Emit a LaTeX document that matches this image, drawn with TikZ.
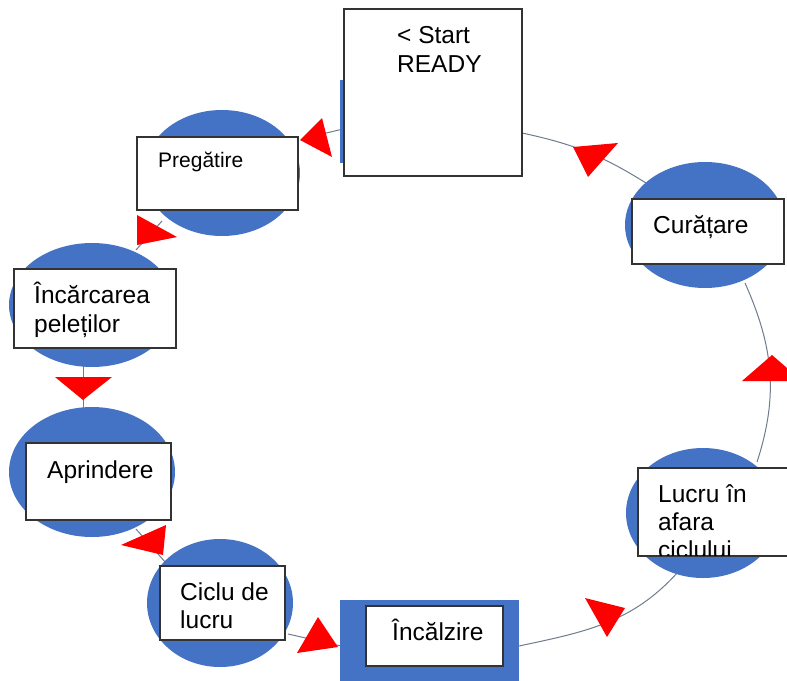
\documentclass[tikz,border=0pt]{standalone}
\usepackage{fontspec}
\setmainfont{Liberation Sans}
\usetikzlibrary{shapes.geometric}
\definecolor{oblue}{HTML}{4472C4}
\definecolor{conncol}{HTML}{6F7C8E}
\definecolor{boxline}{HTML}{333333}
\begin{document}
\begin{tikzpicture}[x=1pt,y=-1pt,
  blob/.style={ellipse, fill=oblue, draw=none, inner sep=0pt},
  wbox/.style={rectangle, fill=white, draw=boxline, line width=1.2pt, inner sep=0pt},
  bbox/.style={rectangle, fill=oblue, draw=none, inner sep=0pt},
  lbl/.style={anchor=base west, inner sep=0pt, font=\fontsize{24.5}{28}\selectfont},
  slbl/.style={anchor=base west, inner sep=0pt, font=\fontsize{21}{25}\selectfont},
  conn/.style={draw=conncol, line width=1pt},
  tri/.style={fill=red}]
\useasboundingbox (0,0) rectangle (787,680);
\clip (0,0) rectangle (787,680);
\fill[white] (0,0) rectangle (787,680);

% connector end points
\coordinate (c1a) at (343,129); \coordinate (c1b) at (318,135);
\coordinate (c2a) at (162,221); \coordinate (c2b) at (136,250);
\coordinate (c3a) at (83,366);  \coordinate (c3b) at (83,410);
\coordinate (c4a) at (136,529); \coordinate (c4b) at (166,563);
\coordinate (c5a) at (288,634); \coordinate (c5b) at (341,646);
\coordinate (c6a) at (519,646); \coordinate (c6b) at (678,572);
\coordinate (c7a) at (757,462); \coordinate (c7b) at (745,283);
\coordinate (c8a) at (646,183); \coordinate (c8b) at (522,133);

% connectors
\draw[conn] (c1a) -- (c1b);
\draw[conn] (c2a) -- (c2b);
\draw[conn] (c3a) -- (c3b);
\draw[conn] (c4a) -- (c4b);
\draw[conn] (c5a) -- (c5b);
\draw[conn] (c6a) to[out=12,in=-132] (c6b);
\draw[conn] (c7a) to[out=72,in=-66] (c7b);
\draw[conn] (c8a) to[out=148,in=-12] (c8b);

% ellipses
\node[blob, minimum width=156pt, minimum height=126pt] (pregE) at (222,173) {};
\node[blob, minimum width=166pt, minimum height=124pt] (incE) at (92,305) {};
\node[blob, minimum width=166pt, minimum height=130pt] (aprE) at (92,472) {};
\node[blob, minimum width=146pt, minimum height=128pt] (cicE) at (220,603) {};
\node[blob, minimum width=154pt, minimum height=130pt] (lucE) at (703,513) {};
\node[blob, minimum width=160pt, minimum height=126pt] (curE) at (705,225) {};

% blue rectangles
\node[bbox, minimum width=12pt, minimum height=83pt] (startB) at (346,121.5) {};
\node[bbox, minimum width=179pt, minimum height=84pt] (incalB) at (429.5,642) {};

% white boxes
\node[wbox, minimum width=178pt, minimum height=167pt] (startW) at (433,92.5) {};
\node[wbox, minimum width=161pt, minimum height=73pt] (pregW) at (217.5,173.5) {};
\node[wbox, minimum width=162pt, minimum height=79pt] (incW) at (95,308.5) {};
\node[wbox, minimum width=145pt, minimum height=77pt] (aprW) at (98.5,481.5) {};
\node[wbox, minimum width=125pt, minimum height=74pt] (cicW) at (222.5,603) {};
\node[wbox, minimum width=137pt, minimum height=60pt] (incalW) at (434.5,636) {};
\node[wbox, minimum width=154pt, minimum height=88pt] (lucW) at (715,512) {};
\node[wbox, minimum width=152pt, minimum height=65pt] (curW) at (708,231.5) {};

% texts
\node[lbl] (tStart) at (397,43) {< Start};
\node[lbl] (tReady) at (397,72) {READY};
\node[slbl] (tPreg) at (158,167) {Pregătire};
\node[lbl] (tInc1) at (34,303) {Încărcarea};
\node[lbl] (tInc2) at (34,332) {peleților};
\node[lbl] (tApr) at (47,478) {Aprindere};
\node[lbl] (tCic1) at (180,600) {Ciclu de};
\node[lbl] (tCic2) at (180,628) {lucru};
\node[lbl] (tIncal) at (392,640) {Încălzire};
\node[lbl] (tCur) at (653,233) {Curățare};
\begin{scope}
\clip (639,469) rectangle (790,555.4);
\node[lbl] (tLuc1) at (658,502) {Lucru în};
\node[lbl] (tLuc2) at (658,530) {afara};
\node[lbl] (tLuc3) at (658,558) {ciclului};
\end{scope}

% arrowheads
\fill[tri] (300,140) -- (322,118) -- (332,157) -- cycle;
\fill[tri] (137,215) -- (177,237) -- (137,245) -- cycle;
\fill[tri] (55,377) -- (112,377) -- (83,400) -- cycle;
\fill[tri] (121,545) -- (166,525) -- (163,555) -- cycle;
\fill[tri] (318,617) -- (338,647) -- (297,653) -- cycle;
\fill[tri] (585,598) -- (625,608) -- (607,637) -- cycle;
\fill[tri] (742,381) -- (772,355) -- (802,381) -- cycle;
\fill[tri] (573,147) -- (618,143) -- (588,177) -- cycle;
\end{tikzpicture}
\end{document}
